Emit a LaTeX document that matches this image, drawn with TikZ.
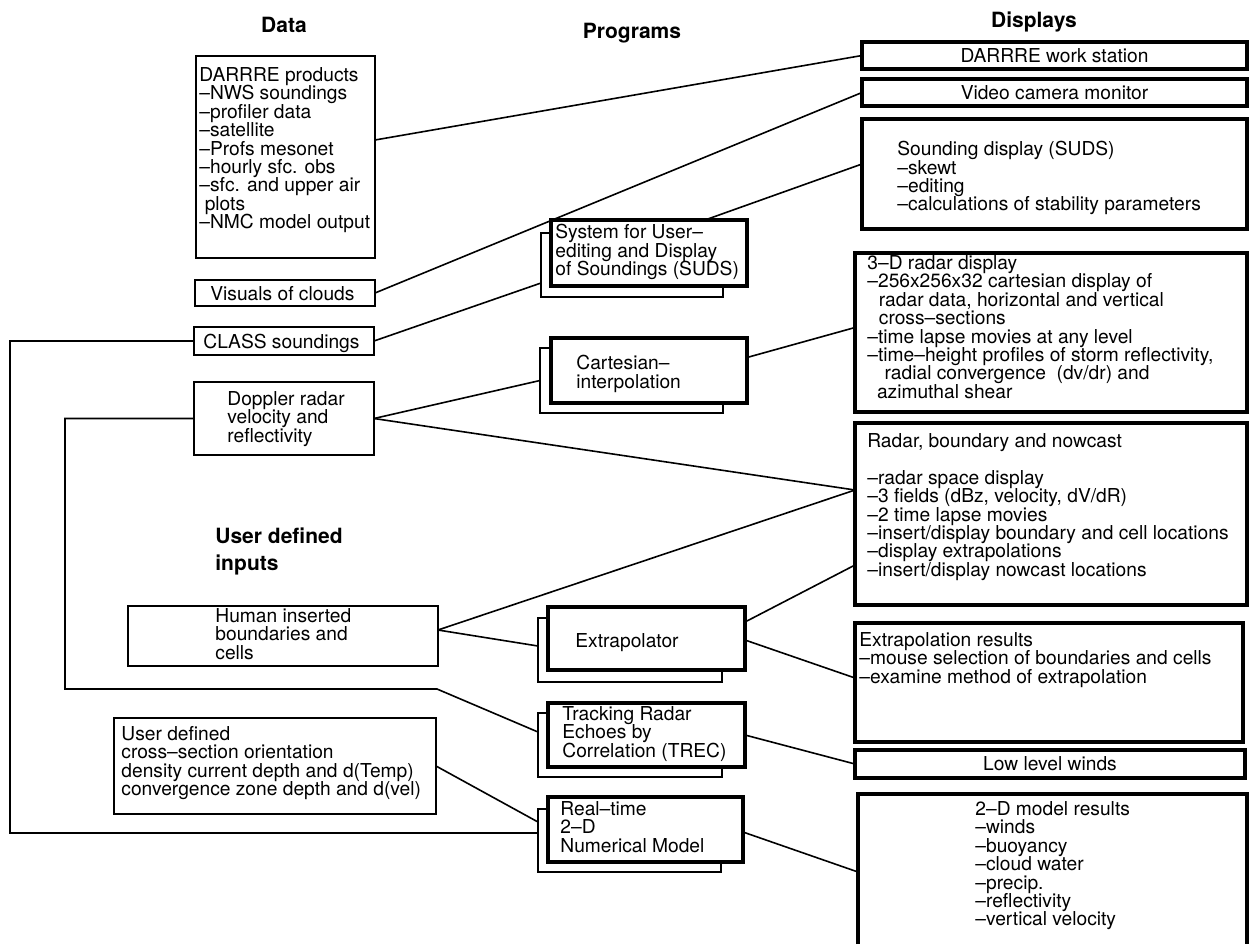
\documentclass[tikz,border=0pt]{standalone}
\usepackage{fontspec}
\setmainfont{TeX Gyre Heros}
\usetikzlibrary{calc}
\newcommand\rbox[6]{%
  \pgfmathsetmacro\rbw{(#5-#3)*0.5}%
  \pgfmathsetmacro\rbh{(#6-#4)*0.5}%
  \node[#1, minimum width=\rbw pt, minimum height=\rbh pt] (#2) at ({(#3+#5)/2},{(#4+#6)/2}) {};}
\newcommand\tightlines{\lineskiplimit=-20pt\relax\lineskip=0pt\relax}
\begin{document}
\begin{tikzpicture}[x=0.5pt,y=-0.5pt,
  thinbox/.style={draw, line width=0.8pt, inner sep=0pt, outer sep=0pt},
  thickbox/.style={draw, line width=1.6pt, inner sep=0pt, outer sep=0pt},
  openbox/.style={draw=none, inner sep=0pt, outer sep=0pt},
  backbox/.style={draw, line width=0.8pt, inner sep=0pt, outer sep=0pt},
  frontbox/.style={draw, fill=white, line width=1.6pt, inner sep=0pt, outer sep=0pt},
  txt/.style={anchor=north west, align=left, inner sep=0pt, font=\fontsize{9.6}{9.2}\selectfont\tightlines},
  ctxt/.style={anchor=center, inner sep=0pt, font=\fontsize{9.6}{9.2}\selectfont},
  hdr/.style={inner sep=0pt, font=\fontsize{10.5}{13.5}\selectfont\bfseries},
  conn/.style={line width=0.8pt},
]
\useasboundingbox (0,0) rectangle (1249,944);

% headers
\node[hdr] (hData) at (284,25) {Data};
\node[hdr] (hProg) at (632,33) {Programs};
\node[hdr] (hDisp) at (1034,22) {Displays};
\node[hdr, anchor=north west, align=left] (hUser) at (215,527) {User defined\\inputs};

% data boxes
\rbox{thinbox}{prod}{196}{56}{375}{258}
\rbox{thinbox}{vis}{195}{280}{375}{306}
\rbox{thinbox}{cls}{194}{327}{374}{355}
\rbox{thinbox}{dop}{194}{382}{374}{455}
\rbox{thinbox}{hum}{128}{606}{438}{666}
\rbox{thinbox}{usr}{114}{718}{436}{814}

% display boxes
\rbox{thickbox}{dws}{862}{42}{1247}{69}
\rbox{thickbox}{vcm}{862}{79}{1247}{106}
\rbox{thickbox}{sd}{862}{119}{1247}{229}
\rbox{thickbox}{rtd}{855}{253}{1247}{412}
\rbox{thickbox}{rbn}{855}{423}{1247}{605}
\rbox{thickbox}{exr}{855}{623}{1243}{742}
\rbox{thickbox}{llw}{855}{750}{1245}{778}
\rbox{openbox}{mtd}{858}{794}{1247}{944}
\draw[line width=1.6pt] (mtd.south west) -- (mtd.north west) -- (mtd.north east) -- (mtd.south east);

% program boxes
\rbox{backbox}{sudsB}{541}{233}{723}{297}
\rbox{backbox}{cartB}{540}{348}{723}{413}
\rbox{backbox}{extB}{538}{618}{722}{682}
\rbox{backbox}{trecB}{538}{713}{722}{777}
\rbox{backbox}{rtB}{538}{809}{721}{872}

% connectors into data / program back boxes
\coordinate (dl1) at (65,689);
\coordinate (dl2) at (437,689);
\coordinate (cl1) at (10,833);
\draw[conn] ($(prod.east)+(0,-17)$) -- (dws.west);
\draw[conn] (vis.east) -- (vcm.west);
\draw[conn] (cls.east) -- ($(sudsB.west)+(0,18)$);
\draw[conn] (dop.east) -- (cartB.west);
\draw[conn] (dop.east) -- ($(rbn.west)+(0,-24)$);
\draw[conn] ($(hum.east)+(0,-6)$) -- ($(rbn.west)+(0,-24)$);
\draw[conn] ($(hum.east)+(0,-6)$) -- ($(extB.west)+(0,-4)$);
\draw[conn] (dop.west) -| (dl1) -- (dl2) -- ($(trecB.west)+(0,-13)$);
\draw[conn] (usr.east) -- ($(rtB.west)+(0,-18.5)$);
\draw[conn] (cls.west) -| (cl1) -- ($(rtB.west)+(0,-7.5)$);

% program front boxes
\rbox{frontbox}{sudsF}{551}{220}{747}{286}
\rbox{frontbox}{cartF}{551}{338}{747}{403}
\rbox{frontbox}{extF}{548}{607}{745}{670}
\rbox{frontbox}{trecF}{548}{703}{745}{767}
\rbox{frontbox}{rtF}{548}{797}{743}{862}

% connectors from programs
\draw[conn] ($(sudsF.north east)+(-42,0)$) -- ($(sd.west)+(0,-10)$);
\draw[conn] ($(cartF.east)+(0,-13)$) -- ($(rtd.west)+(0,-5)$);
\draw[conn] ($(extF.east)+(0,-16.5)$) -- ($(rbn.west)+(0,51)$);
\draw[conn] ($(extF.east)+(0,1.5)$) -- ($(exr.west)+(0,-4.5)$);
\draw[conn] (trecF.east) -- (llw.west);
\draw[conn] ($(rtF.east)+(0,2.5)$) -- ($(mtd.west)+(0,3)$);

% texts
\node[txt] (tprod) at (199,67) {DARRRE products\\–NWS soundings\\–profiler data\\–satellite\\–Profs mesonet\\–hourly sfc. obs\\–sfc. and upper air\\\hspace*{0.28em}plots\\–NMC model output};
\node[txt] (tvis) at (210,286) {Visuals of clouds};
\node[txt] (tcls) at (203,334) {CLASS soundings};
\node[txt] (tdop) at (227,391) {Doppler radar\\velocity and\\reflectivity};
\node[txt] (thum) at (215,608) {Human inserted\\boundaries and\\cells};
\node[txt] (tusr) at (121,726) {User defined\\cross–section orientation\\density current depth and d(Temp)\\convergence zone depth and d(vel)};
\node[txt] (tsuds) at (555,224) {System for User–\\editing and Display\\of Soundings (SUDS)};
\node[txt] (tcart) at (576,355) {Cartesian–\\interpolation};
\node[txt] (text) at (575,633) {Extrapolator};
\node[txt] (ttrec) at (562,706) {Tracking Radar\\Echoes by\\Correlation (TREC)};
\node[txt] (trt) at (560,801) {Real–time\\2–D\\Numerical Model};
\node[ctxt] (tdws) at (dws.center) {DARRRE work station};
\node[ctxt] (tvcm) at (vcm.center) {Video camera monitor};
\node[txt] (tsd) at (897,141) {Sounding display (SUDS)\\–skewt\\–editing\\–calculations of stability parameters};
\node[txt] (trtd) at (867,255) {3–D radar display\\–256x256x32 cartesian display of\\\hspace*{0.6em}radar data, horizontal and vertical\\\hspace*{0.6em}cross–sections\\–time lapse movies at any level\\–time–height profiles of storm reflectivity,\\\hspace*{0.9em}radial convergence\ \ (dv/dr) and\\\hspace*{0.5em}azimuthal shear};
\node[txt] (trbn) at (867,433) {Radar, boundary and nowcast\\[9.2pt]–radar space display\\–3 fields (dBz, velocity, dV/dR)\\–2 time lapse movies\\–insert/display boundary and cell locations\\–display extrapolations\\–insert/display nowcast locations};
\node[txt] (texr) at (859,632) {Extrapolation results\\–mouse selection of boundaries and cells\\–examine method of extrapolation};
\node[ctxt] (tllw) at (llw.center) {Low level winds};
\node[txt] (tmtd) at (975,801) {2–D model results\\–winds\\–buoyancy\\–cloud water\\–precip.\\–reflectivity\\–vertical velocity};
\end{tikzpicture}
\end{document}
